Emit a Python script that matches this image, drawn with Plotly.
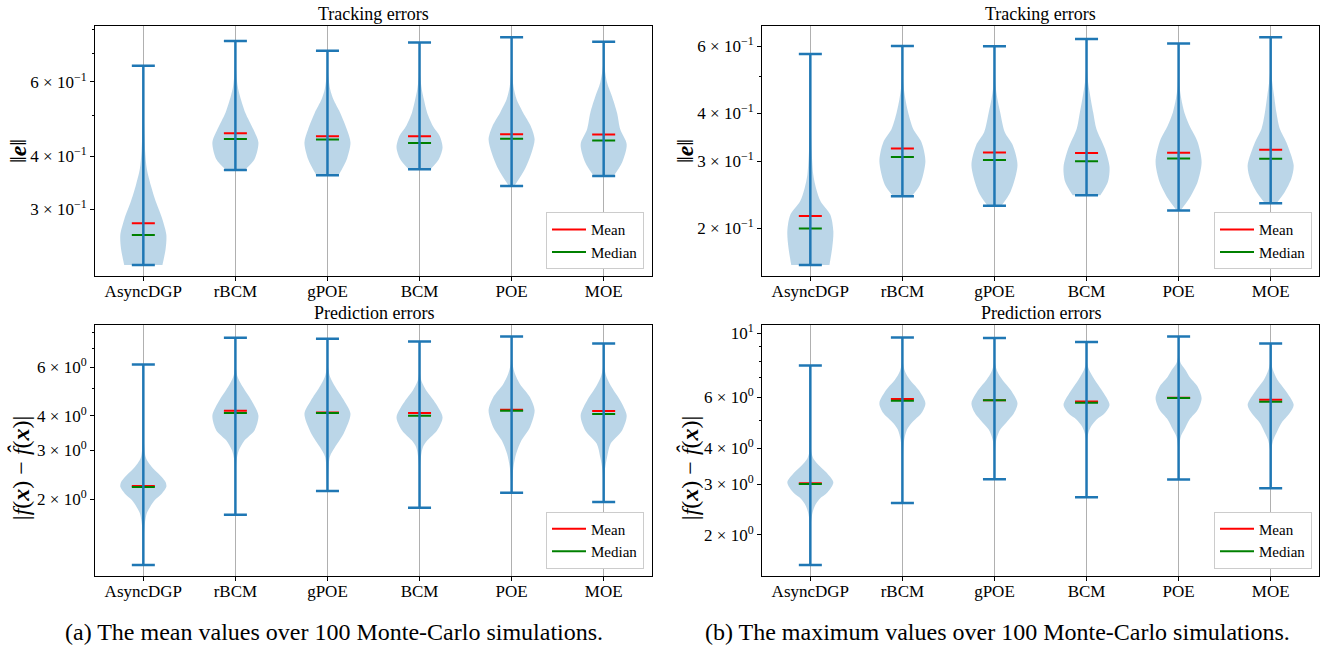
import math
import plotly.graph_objects as go

methods = ["AsyncDGP", "rBCM", "gPOE", "BCM", "POE", "MOE"]
pos = [1, 2, 3, 4, 5, 6]

# ---- (a) mean values: tracking errors ----
tl_min = [0.2216, 0.3715, 0.361, 0.3729, 0.3406, 0.3594]
tl_max = [0.655, 0.750, 0.7107, 0.7437, 0.765, 0.746]
tl_mean = [0.278, 0.4537, 0.4466, 0.4466, 0.4513, 0.4505]
tl_median = [0.2607, 0.440, 0.4385, 0.430, 0.4405, 0.436]
tl_levels = [
    [0.2216, 0.242, 0.261, 0.285, 0.312, 0.341, 0.374, 0.409, 0.447, 0.508, 0.655],
    [0.3715, 0.394, 0.4315, 0.4636, 0.5075, 0.555, 0.586, 0.641, 0.750],
    [0.361, 0.394, 0.4315, 0.4636, 0.5075, 0.545, 0.5755, 0.6187, 0.7107],
    [0.3729, 0.394, 0.42, 0.4474, 0.4722, 0.5075, 0.545, 0.5755, 0.6187, 0.7437],
    [0.3406, 0.3735, 0.4088, 0.4393, 0.4722, 0.5075, 0.545, 0.586, 0.641, 0.765],
    [0.3594, 0.3868, 0.4276, 0.4636, 0.5075, 0.555, 0.597, 0.655, 0.746],
]
tl_widths = [
    [0.83, 0.97, 1.0, 0.82, 0.55, 0.33, 0.15, 0.08, 0.05, 0.02, 0.0],
    [0.4, 0.83, 1.0, 0.78, 0.43, 0.2, 0.1, 0.03, 0.0],
    [0.48, 0.84, 1.0, 0.84, 0.55, 0.26, 0.12, 0.04, 0.0],
    [0.47, 0.84, 1.0, 0.87, 0.58, 0.33, 0.19, 0.1, 0.03, 0.0],
    [0.12, 0.58, 0.87, 1.0, 0.83, 0.5, 0.22, 0.08, 0.02, 0.0],
    [0.43, 0.8, 1.0, 0.72, 0.58, 0.36, 0.15, 0.03, 0.0],
]

# ---- (b) maximum values: tracking errors ----
tr_min = [0.16, 0.2424, 0.2289, 0.2438, 0.2223, 0.2324]
tr_max = [0.573, 0.602, 0.601, 0.628, 0.611, 0.6345]
tr_mean = [0.215, 0.3237, 0.316, 0.3148, 0.3156, 0.3212]
tr_median = [0.1996, 0.3073, 0.3018, 0.2995, 0.3047, 0.3043]
tr_levels = [
    [0.16, 0.1775, 0.1962, 0.2168, 0.2348, 0.2542, 0.2756, 0.3167, 0.3867, 0.573],
    [0.2424, 0.2595, 0.2996, 0.3363, 0.3642, 0.4025, 0.4357, 0.4721, 0.5217, 0.602],
    [0.2289, 0.2493, 0.2924, 0.3297, 0.357, 0.4025, 0.4357, 0.4721, 0.601],
    [0.2438, 0.2647, 0.2895, 0.3231, 0.3642, 0.4025, 0.4447, 0.4816, 0.5217, 0.628],
    [0.2223, 0.2394, 0.2647, 0.2984, 0.3363, 0.3717, 0.4025, 0.4357, 0.4721, 0.611],
    [0.2324, 0.2493, 0.2699, 0.2924, 0.3363, 0.3642, 0.4025, 0.4447, 0.4816, 0.5217, 0.6345],
]
tr_widths = [
    [0.83, 0.95, 1.0, 0.87, 0.45, 0.25, 0.13, 0.06, 0.02, 0.0],
    [0.4, 0.76, 1.0, 0.83, 0.47, 0.25, 0.13, 0.05, 0.01, 0.0],
    [0.3, 0.7, 1.0, 0.8, 0.45, 0.25, 0.13, 0.05, 0.0],
    [0.6, 0.93, 1.0, 0.8, 0.43, 0.29, 0.16, 0.07, 0.02, 0.0],
    [0.08, 0.47, 0.83, 1.0, 0.83, 0.47, 0.25, 0.12, 0.04, 0.0],
    [0.25, 0.62, 0.9, 1.0, 0.68, 0.4, 0.25, 0.15, 0.07, 0.02, 0.0],
]

# ---- (a) mean values: prediction errors ----
bl_min = [1.155, 1.756, 2.137, 1.86, 2.107, 1.95]
bl_max = [6.13, 7.65, 7.59, 7.42, 7.74, 7.30]
bl_mean = [2.228, 4.17, 4.11, 4.09, 4.205, 4.16]
bl_median = [2.21, 4.09, 4.09, 4.0, 4.17, 4.055]
bl_levels = [
    [1.155, 1.423, 1.589, 1.776, 1.876, 1.983, 2.09, 2.214, 2.3, 2.405, 2.542, 2.688, 2.838, 3.171, 3.638, 6.13],
    [1.756, 2.34, 2.762, 3.0, 3.26, 3.541, 4.009, 4.54, 5.07, 5.51, 5.98, 7.65],
    [2.137, 2.838, 3.083, 3.445, 4.067, 4.54, 5.07, 5.51, 5.98, 7.59],
    [1.86, 2.612, 2.838, 3.083, 3.26, 3.541, 3.954, 4.54, 4.93, 5.357, 5.82, 7.42],
    [2.107, 2.34, 2.612, 2.919, 3.26, 3.638, 4.178, 4.665, 5.212, 5.662, 6.152, 7.74],
    [1.95, 2.277, 2.542, 2.838, 3.171, 3.541, 4.009, 4.54, 5.07, 5.51, 5.98, 7.30],
]
bl_widths = [
    [0.0, 0.02, 0.05, 0.15, 0.3, 0.5, 0.8, 1.0, 0.97, 0.8, 0.5, 0.25, 0.1, 0.03, 0.01, 0.0],
    [0.0, 0.01, 0.05, 0.15, 0.4, 0.83, 1.0, 0.7, 0.33, 0.1, 0.02, 0.0],
    [0.0, 0.1, 0.33, 0.7, 1.0, 0.72, 0.35, 0.12, 0.03, 0.0],
    [0.0, 0.02, 0.06, 0.15, 0.34, 0.76, 1.0, 0.62, 0.3, 0.08, 0.01, 0.0],
    [0.0, 0.03, 0.08, 0.2, 0.43, 0.8, 1.0, 0.8, 0.36, 0.15, 0.04, 0.0],
    [0.0, 0.02, 0.05, 0.15, 0.3, 0.8, 1.0, 0.72, 0.35, 0.13, 0.03, 0.0],
]

# ---- (b) maximum values: prediction errors ----
br_min = [1.573, 2.58, 3.12, 2.70, 3.11, 2.90]
br_max = [7.73, 9.66, 9.61, 9.31, 9.74, 9.20]
br_mean = [3.02, 5.91, 5.86, 5.80, 5.97, 5.88]
br_median = [3.0, 5.83, 5.855, 5.74, 5.96, 5.78]
br_levels = [
    [1.573, 2.215, 2.397, 2.525, 2.663, 2.808, 3.039, 3.289, 3.465, 3.654, 3.853, 4.17, 7.73],
    [2.58, 3.853, 4.28, 4.633, 4.885, 5.287, 5.722, 6.36, 6.88, 7.35, 7.85, 9.66],
    [3.12, 3.853, 4.28, 4.633, 4.885, 5.287, 5.722, 6.36, 6.88, 7.35, 7.85, 9.61],
    [2.70, 4.28, 4.513, 4.755, 5.013, 5.287, 5.645, 6.36, 6.88, 7.35, 7.75, 9.31],
    [3.11, 4.06, 4.393, 4.633, 5.013, 5.428, 5.954, 6.526, 7.063, 7.447, 7.85, 8.275, 9.74],
    [2.90, 3.955, 4.28, 4.513, 4.885, 5.287, 5.645, 6.36, 6.88, 7.447, 7.85, 9.20],
]
br_widths = [
    [0.0, 0.03, 0.1, 0.2, 0.4, 0.75, 1.0, 0.7, 0.4, 0.15, 0.05, 0.02, 0.0],
    [0.0, 0.03, 0.08, 0.2, 0.4, 0.83, 1.0, 0.7, 0.33, 0.12, 0.03, 0.0],
    [0.0, 0.02, 0.08, 0.25, 0.5, 0.85, 1.0, 0.7, 0.35, 0.13, 0.03, 0.0],
    [0.0, 0.02, 0.08, 0.2, 0.43, 0.8, 1.0, 0.65, 0.36, 0.15, 0.04, 0.0],
    [0.0, 0.03, 0.1, 0.25, 0.47, 0.83, 1.0, 0.83, 0.47, 0.3, 0.1, 0.03, 0.0],
    [0.0, 0.03, 0.12, 0.25, 0.47, 0.83, 1.0, 0.62, 0.3, 0.1, 0.03, 0.0],
]

W, H = 1337, 650
BLUE = "#1f77b4"
FILL = "rgba(31,119,180,0.3)"
SERIF = "Liberation Serif"
HALF_BODY = 0.25   # half of violin body width
HALF_CAP = 0.125   # half of cap / mean / median line width

fig = go.Figure()


def add_panel(xa, ya, leg, levels, widths, mins, maxs, means, medians):
    for p, lv, wd in zip(pos, levels, widths):
        xs = [p - HALF_BODY * w for w in wd] + [p + HALF_BODY * w for w in reversed(wd)]
        ys = list(lv) + list(reversed(lv))
        fig.add_trace(go.Scatter(
            x=xs, y=ys, xaxis=xa, yaxis=ya, mode="lines",
            line=dict(width=0, shape="spline", smoothing=0.8, color=FILL),
            fill="toself", fillcolor=FILL, hoverinfo="skip", showlegend=False))
    for vals, name, color in ((means, "Mean", "red"), (medians, "Median", "green")):
        lx, ly = [], []
        for p, v in zip(pos, vals):
            lx += [p - HALF_CAP, p + HALF_CAP, None]
            ly += [v, v, None]
        fig.add_trace(go.Scatter(
            x=lx, y=ly, xaxis=xa, yaxis=ya, mode="lines", name=name,
            line=dict(color=color, width=2), legend=leg))
    wx, wy = [], []
    for p, lo, hi in zip(pos, mins, maxs):
        wx += [p, p, None, p - HALF_CAP, p + HALF_CAP, None, p - HALF_CAP, p + HALF_CAP, None]
        wy += [lo, hi, None, lo, lo, None, hi, hi, None]
    fig.add_trace(go.Scatter(
        x=wx, y=wy, xaxis=xa, yaxis=ya, mode="lines",
        line=dict(color=BLUE, width=2.5), hoverinfo="skip", showlegend=False))


add_panel("x", "y", "legend", tl_levels, tl_widths, tl_min, tl_max, tl_mean, tl_median)
add_panel("x2", "y2", "legend2", tr_levels, tr_widths, tr_min, tr_max, tr_mean, tr_median)
add_panel("x3", "y3", "legend3", bl_levels, bl_widths, bl_min, bl_max, bl_mean, bl_median)
add_panel("x4", "y4", "legend4", br_levels, br_widths, br_min, br_max, br_mean, br_median)


def log_range(mins, maxs):
    lo = math.log10(min(mins))
    hi = math.log10(max(maxs))
    pad = 0.05 * (hi - lo)
    return [lo - pad, hi + pad]


def sci(v):
    e = int(math.floor(math.log10(v) + 1e-9))
    m = round(v / 10 ** e)
    sup = str(e).replace("-", "\u2212")
    if m == 1:
        return f"10<sup>{sup}</sup>"
    return f"{m} \u00d7 10<sup>{sup}</sup>"


left_dom = [95 / W, 652 / W]
right_dom = [762 / W, 1319 / W]
top_dom = [1 - 274 / H, 1 - 22 / H]
bot_dom = [1 - 576 / H, 1 - 323 / H]

tick_font = dict(family=SERIF, size=17, color="black")


def xaxis(dom, anchor):
    return dict(domain=dom, anchor=anchor, range=[0.475, 6.525],
                tickvals=pos, ticktext=methods, ticks="outside", ticklen=4,
                tickcolor="black", showgrid=True, gridcolor="#b0b0b0", gridwidth=1,
                showline=True, mirror=True, linecolor="black", linewidth=1,
                zeroline=False, tickfont=tick_font, ticklabelstandoff=-5)


def yaxis(dom, anchor, mins, maxs, major, minor):
    return dict(domain=dom, anchor=anchor, type="log", range=log_range(mins, maxs),
                tickvals=major, ticktext=[sci(v) for v in major],
                ticks="outside", ticklen=4, tickcolor="black",
                minor=dict(tickvals=minor, ticks="outside", ticklen=2.5, tickcolor="black",
                           showgrid=False),
                showgrid=False, showline=True, mirror=True, linecolor="black",
                linewidth=1, zeroline=False, tickfont=tick_font)


legend_common = dict(bgcolor="white", bordercolor="#cccccc", borderwidth=1,
                     font=dict(family=SERIF, size=15, color="black"),
                     xanchor="right", yanchor="bottom", tracegroupgap=0,
                     itemwidth=34)

fig.update_layout(
    width=W, height=H, margin=dict(l=0, r=0, t=0, b=0),
    paper_bgcolor="white", plot_bgcolor="white",
    xaxis=xaxis(left_dom, "y"),
    yaxis=yaxis(top_dom, "x", tl_min, tl_max, [0.3, 0.4, 0.6], [0.5, 0.7, 0.8]),
    xaxis2=xaxis(right_dom, "y2"),
    yaxis2=yaxis(top_dom, "x2", tr_min, tr_max, [0.2, 0.3, 0.4, 0.6], [0.5]),
    xaxis3=xaxis(left_dom, "y3"),
    yaxis3=yaxis(bot_dom, "x3", bl_min, bl_max, [2, 3, 4, 6], [5, 7, 8]),
    xaxis4=xaxis(right_dom, "y4"),
    yaxis4=yaxis(bot_dom, "x4", br_min, br_max, [2, 3, 4, 6, 10], [5, 7, 8, 9]),
    legend=dict(legend_common, x=644 / W, y=1 - 267 / H),
    legend2=dict(legend_common, x=1312 / W, y=1 - 267 / H),
    legend3=dict(legend_common, x=644 / W, y=1 - 568 / H),
    legend4=dict(legend_common, x=1312 / W, y=1 - 568 / H),
    showlegend=True,
)


def label(text, x_px, y_px, size, angle=0):
    return dict(text=text, x=x_px / W, y=1 - y_px / H, xref="paper", yref="paper",
                xanchor="center", yanchor="middle", showarrow=False, textangle=angle,
                font=dict(family=SERIF, size=size, color="black"))


annotations = []
for cx in ((95 + 652) / 2, (762 + 1319) / 2):
    annotations.append(label("Tracking errors", cx, 10, 18))
    annotations.append(label("Prediction errors", cx, 311, 18))

norm_title = "\u2016<b><i>e</i></b>\u2016"
pred_title = "|<i>f</i>(<b><i>x</i></b>) \u2212 <i>f\u0302</i>(<b><i>x</i></b>)|"
for x_px, y_px, txt, size in ((18, 148, norm_title, 24), (685, 148, norm_title, 24),
                              (20, 467, pred_title, 24), (689, 467, pred_title, 24)):
    annotations.append(label(txt, x_px, y_px, size, -90))

annotations.append(label("(a) The mean values over 100 Monte-Carlo simulations.", 334, 632, 24))
annotations.append(label("(b) The maximum values over 100 Monte-Carlo simulations.", 997, 632, 24))

fig.update_layout(annotations=annotations)

fig.write_html("out.html")
